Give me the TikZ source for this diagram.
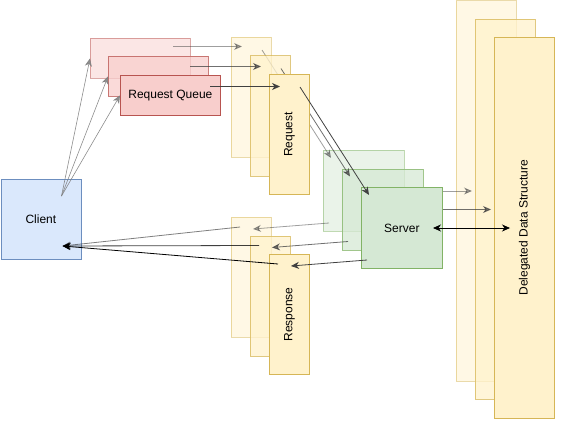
\documentclass[tikz,border=0pt]{standalone}
\usepackage{fontspec}
\setmainfont{Liberation Sans}
\usetikzlibrary{arrows.meta,calc}
\definecolor{clientfill}{HTML}{DAE8FC}
\definecolor{clientline}{HTML}{6C8EBF}
\definecolor{queuefill}{HTML}{F8CECC}
\definecolor{queueline}{HTML}{B85450}
\definecolor{yellowfill}{HTML}{FFF2CC}
\definecolor{yellowline}{HTML}{D6B656}
\definecolor{greenfill}{HTML}{D5E8D4}
\definecolor{greenline}{HTML}{82B366}

\begin{document}
\begin{tikzpicture}[x=1pt,y=-1pt,
	box/.style={draw,line width=0.8pt,inner sep=0pt,anchor=north west},
	queue/.style={box,fill=queuefill,draw=queueline,minimum width=100pt,minimum height=40pt},
	req/.style={box,fill=yellowfill,draw=yellowline,minimum width=40pt,minimum height=120pt},
	server/.style={box,fill=greenfill,draw=greenline,minimum width=81pt,minimum height=81pt},
	store/.style={box,fill=yellowfill,draw=yellowline,minimum width=60pt,minimum height=380pt},
	link/.style={draw=black!75,line width=0.8pt,-{Stealth[length=8pt,width=7pt,inset=2.5pt]}},
	strong/.style={link,draw=black},
	thin/.style={link,draw=black!50,opacity=0.9,line width=0.6pt},
	label/.style={font=\fontsize{12}{14}\selectfont,text=black}]
\useasboundingbox (0,0) rectangle (565,428);

\node[box,fill=clientfill,draw=clientline,minimum width=80pt,minimum height=80pt,label] (client) at (0.5,179) {Client};
\coordinate (cout) at ($(client.north west)+(61,17)$);
\coordinate (cin) at ($(client.north west)+(62,67)$);

% three copies, back to front
\foreach \l/\op/\qx/\qy/\qs in {1/0.5/90/38/83,2/0.75/108/56/82,3/1/120/75/90}
{
	\pgfmathsetmacro{\dx}{(\l-1)*19}
	\pgfmathsetmacro{\dy}{(\l-1)*18.5}
	\begin{scope}[opacity=\op]
	\node[store] (d\l) at (456+\dx,0.5+\dy) {};
	\node[queue] (q\l) at (\qx,\qy) {};
	\node[req] (r\l) at (231+\dx,37+\dy) {};
	\node[server] (s\l) at (323+\dx,150+\dy) {};
	\node[req] (p\l) at (231+\dx,217+\dy) {};

	\draw[thin] (cout) -- (q\l.west);
	\coordinate (qout\l) at ($(q\l.north west)+(\qs,0)$);
	\coordinate (rin\l) at ($(r\l.north west)+(11,8+1.5*\l)$);
	\draw[link] (qout\l |- rin\l) -- (rin\l);
	\draw[link] ($(r\l.north west)+(31,13)$) -- ($(s\l.north west)+(8,8)$);
	\draw[link] ($(s\l.north west)+(6,73)$) -- ($(p\l.north west)+(22,12)$);
	\draw[strong] ($(p\l.north west)+(9,10)$) -- (cin);
	\ifnum\l=3
		\draw[strong,{Stealth[length=8pt,width=7pt,inset=2.5pt]}-{Stealth[length=8pt,width=7pt,inset=2.5pt]}] ($(s\l.north west)+(72,41)$) -- ($(d\l.north west)+(16,190.5)$);
	\else
		\draw[link] ($(s\l.north west)+(72,41)$) -- ($(d\l.north west)+(16,190.5)$);
	\fi
	\end{scope}
}

\node[label] (qtext) at (q3) {Request Queue};
\node[label,rotate=90] (rtext) at (r3) {Request};
\node[label] (stext) at (s3) {Server};
\node[label,rotate=90] (ptext) at (p3) {Response};
\node[label,rotate=90] (dtext) at (d3) {Delegated Data Structure};
\end{tikzpicture}
\end{document}
